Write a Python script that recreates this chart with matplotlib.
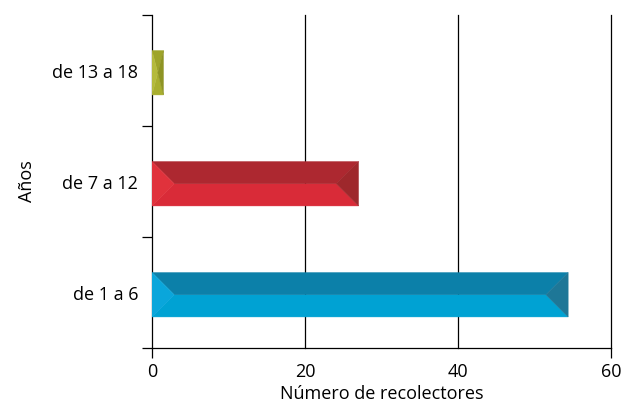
import matplotlib.pyplot as plt
from matplotlib.patches import Polygon

plt.rcParams['font.family'] = ['Open Sans', 'DejaVu Sans']

# age groups (bottom to top) and number of collectors
grupos = ["de 1 a 6", "de 7 a 12", "de 13 a 18"]
recolectores = [54.4, 27.0, 1.5]

# face colours for each bar: bottom, top, left, right
caras = [
    ("#00a2d3", "#0c80a9", "#0aa6db", "#1e7797"),
    ("#d92b38", "#ad2830", "#e0323c", "#9e282c"),
    ("#a8ae2f", "#9ea42a", "#b4ba3c", "#8e9424"),
]

fig = plt.figure(figsize=(6.25, 4.08), dpi=100)
ax = fig.add_axes([0.2432, 0.147, 0.7344, 0.8162])

xmax = 60
ax.set_xlim(0, xmax)
ax.set_ylim(-0.5, len(grupos) - 0.5)

bar_h = 0.4
# convert half the bar height (in pixels) into x units so the bevel is square
ax_w = fig.get_figwidth() * fig.dpi * 0.7344
ax_h = fig.get_figheight() * fig.dpi * 0.8162
bevel_px = (bar_h / 2) / len(grupos) * ax_h
bevel_x = bevel_px * xmax / ax_w

# vertical grid lines
for gx in [20, 40, 60]:
    ax.axvline(gx, color="black", lw=0.9, zorder=1, clip_on=False)

for i, (v, (c_bot, c_top, c_left, c_right)) in enumerate(zip(recolectores, caras)):
    y0, y1, ym = i - bar_h / 2 - 0.02, i + bar_h / 2 - 0.02, i - 0.02
    b = min(bevel_x, v / 2)
    faces = [
        ([(0, y0), (b, ym), (v - b, ym), (v, y0)], c_bot),
        ([(0, y1), (b, ym), (v - b, ym), (v, y1)], c_top),
        ([(0, y0), (b, ym), (0, y1)], c_left),
        ([(v, y0), (v - b, ym), (v, y1)], c_right),
    ]
    for pts, col in faces:
        ax.add_patch(Polygon(pts, closed=True, facecolor=col,
                             edgecolor=col, lw=0.3, zorder=3))

# y axis: ticks on the category boundaries, labels at the centres
ax.set_yticks([k - 0.5 for k in range(len(grupos) + 1)])
ax.set_yticklabels([])
ax.set_yticks(range(len(grupos)), minor=True)
ax.set_yticklabels(grupos, minor=True, fontsize=13)
ax.tick_params(axis="y", which="major", direction="out", length=7, width=0.9)
ax.tick_params(axis="y", which="minor", length=0, pad=10)

ax.set_xticks([0, 20, 40, 60])
ax.set_xticklabels(["0", "20", "40", "60"], fontsize=13)
ax.tick_params(axis="x", direction="out", length=7, width=0.9, pad=4)
for t in ax.xaxis.get_major_ticks()[1:3]:
    t.tick1line.set_visible(False)

for s in ["top", "right"]:
    ax.spines[s].set_visible(False)
for s in ["left", "bottom"]:
    ax.spines[s].set_linewidth(0.9)

ax.set_xlabel("Número de recolectores", fontsize=13, labelpad=3)
ax.set_ylabel("Años", fontsize=13, labelpad=12)

fig.savefig("out.png", dpi=100)
